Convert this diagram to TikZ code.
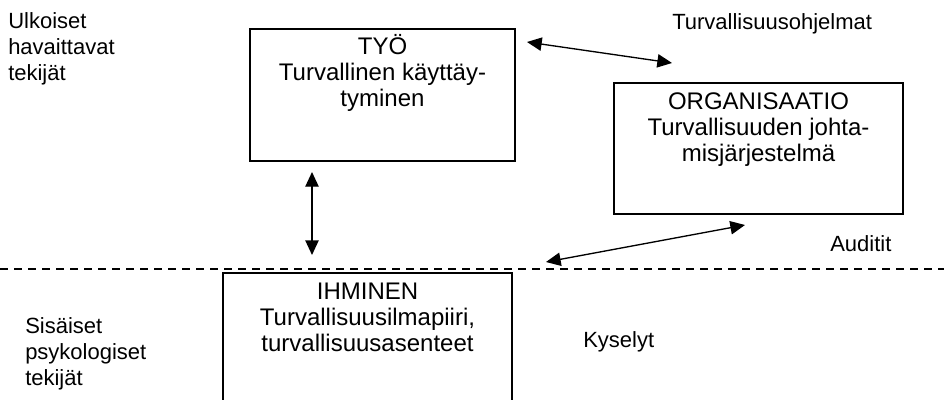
\documentclass[tikz,border=0pt]{standalone}
\usepackage{fontspec}
\setmainfont{Liberation Sans}
\usetikzlibrary{arrows.meta,positioning}
\begin{document}
\begin{tikzpicture}[x=0.75pt,y=-0.75pt,
    font=\fontsize{16.5}{19.5}\selectfont,
    box/.style={draw,line width=1.3pt,inner sep=0pt},
    boxtext/.style={align=center,anchor=north,inner sep=0pt,font=\fontsize{18}{19.5}\selectfont},
    sidetext/.style={align=left,anchor=north west,inner sep=0pt},
    link/.style={{Triangle[length=11pt,width=10pt]}-{Triangle[length=11pt,width=10pt]},line width=1pt}]
    \clip (0,0) rectangle (944,399);
    % the three boxes
    \node[box,minimum width=198.75pt,minimum height=99pt] (tyo) at (382.5,95) {};
    \node[box,minimum width=216.75pt,minimum height=98.25pt] (org) at (758.5,148.5) {};
    \node[box,minimum width=216.75pt,minimum height=110.25pt] (ihminen) at (367.5,346.5) {};
    \node[boxtext,below=4.5pt of tyo.north] (tyotext) {TYÖ\\Turvallinen käyttäy-\\tyminen};
    \node[boxtext,below=8pt of org.north] (orgtext) {ORGANISAATIO\\Turvallisuuden johta-\\misjärjestelmä};
    \node[boxtext,below=8pt of ihminen.north] (ihmtext) {IHMINEN\\Turvallisuusilmapiiri,\\turvallisuusasenteet};
    % border between outer and inner factors
    \draw[line width=1.2pt,dash pattern=on 6pt off 4.5pt] (0,269) -- (944,269);
    % side labels
    \node[sidetext] (ulko) at (8,12) {Ulkoiset\\havaittavat\\tekijät};
    \node[sidetext] (sisa) at (25,317) {Sisäiset\\psykologiset\\tekijät};
    \node[anchor=base west,inner sep=0pt] (ohjelmat) at (672,30) {Turvallisuusohjelmat};
    \node[anchor=base west,inner sep=0pt] (auditit) at (830,251) {Auditit};
    \node[anchor=base west,inner sep=0pt] (kyselyt) at (583,347) {Kyselyt};
    % arrows
    \coordinate (a1) at (527,42);
    \coordinate (a2) at (672,63);
    \coordinate (b1) at (546,262);
    \coordinate (b2) at (745,225);
    \coordinate (c1) at (312,172);
    \coordinate (c2) at (312,255);
    \draw[link] (a1) -- (a2);
    \draw[link] (b1) -- (b2);
    \draw[link] (c1) -- (c2);
\end{tikzpicture}
\end{document}
